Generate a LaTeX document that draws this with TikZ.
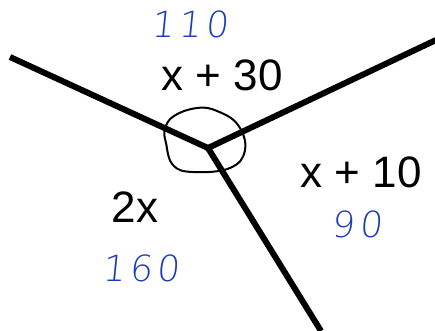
\documentclass[tikz,border=0pt]{standalone}
\usepackage{fontspec}
\setmainfont{Liberation Sans}
\newfontfamily\handfont[FakeSlant=0.1,LetterSpace=12]{DejaVu Sans ExtraLight}
\usepackage{tikz}
\usetikzlibrary{calc,positioning}
\definecolor{penblue}{RGB}{28,62,180}
\tikzset{ray/.style={line width=6pt},
  lbl/.style={font=\fontsize{44}{44}\selectfont,inner sep=0pt},
  pen/.style={font=\handfont\fontsize{36}{36}\selectfont,text=penblue,inner sep=0pt}}

\begin{document}
\begin{tikzpicture}[x=1pt,y=-1pt]
\useasboundingbox (0,0) rectangle (435,330);
\coordinate (O) at (208,148);
\coordinate (A) at (10,57);
\coordinate (B) at (436,40);
\coordinate (C) at (321,331);
\draw[ray] (A)--(O);
\draw[ray] (B)--(O);
\draw[ray] (C)--(O);
\draw[line width=2pt] plot[smooth cycle,tension=0.7] coordinates {(166,143) (173,165) (193,172) (230,168) (245,150) (238,125) (217,111) (197,108) (174,116) (165,129)};
\node[lbl] (t30) at (222,75) {x + 30};
\node[lbl] (t10) at (361,172) {x + 10};
\node[lbl] (t2x) at (135,207) {2x};
\node[pen] (v110) at (190,24) {110};
\node[pen] (v90) at (357,224) {90};
\node[pen] (v160) at (141,268) {160};
\end{tikzpicture}
\end{document}
